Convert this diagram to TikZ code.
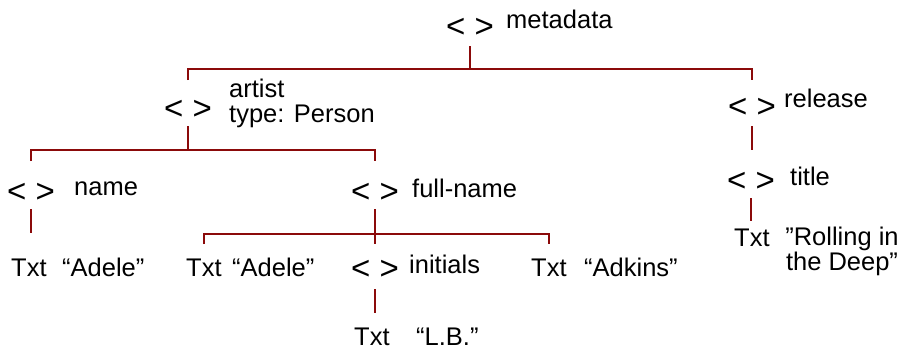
\documentclass[tikz,border=0pt]{standalone}
\usepackage{fontspec}
\setmainfont{Liberation Sans}[Ligatures=ResetAll]
\usetikzlibrary{calc}
\definecolor{linkred}{RGB}{139,10,10}
\tikzset{
  br/.style={inner sep=0pt, font=\fontsize{33}{33}\selectfont},
  lbl/.style={inner sep=0pt, anchor=base west, font=\fontsize{25.5}{25}\selectfont},
  txt/.style={inner sep=0pt, anchor=base west, font=\fontsize{25.5}{25}\selectfont},
  link/.style={draw=linkred, line width=1.6pt},
}
\begin{document}
\begin{tikzpicture}[x=1pt,y=-1pt]
\useasboundingbox (0,0) rectangle (904,354);
% element nodes
\node[br] (md) at (470,28) {< >};
\node[lbl] (mdl) at (506,28) {metadata};
\node[br] (art) at (188,110) {< >};
\node[lbl, align=left] (artl) at (229,122) {artist\\type: Person};
\node[br] (rel) at (752,108) {< >};
\node[lbl] (rell) at (784,107) {release};
\node[br] (nm) at (31,193) {< >};
\node[lbl] (nml) at (74,195) {name};
\node[br] (fn) at (375,193) {< >};
\node[lbl] (fnl) at (412,197) {full-name};
\node[br] (tt) at (751,182) {< >};
\node[lbl] (ttl) at (790,185) {title};
\node[br] (ini) at (375,270) {< >};
\node[lbl] (inil) at (409,273) {initials};
% text nodes
\node[txt] (t1) at (11,276) {Txt};
\node[lbl] (v1) at (62,276) {“Adele”};
\node[txt] (t2) at (186,276) {Txt};
\node[lbl] (v2) at (232,276) {“Adele”};
\node[txt] (t3) at (531,276) {Txt};
\node[lbl] (v3) at (584,276) {“Adkins”};
\node[txt] (t4) at (354,345) {Txt};
\node[lbl] (v4) at (416,345) {“L.B.”};
\node[txt] (t5) at (734,246) {Txt};
\node[lbl, anchor=base, align=center] (v5) at (842,270) {\symbol{34}Rolling in\\the Deep\symbol{34}};
% connectors
\draw[link] ($(md)+(0,18)$) -- ($(md)+(0,41)$) coordinate (mdbar);
\draw[link] ($(art |- mdbar)+(0,11)$) -- (art |- mdbar) -- (rel |- mdbar) -- ($(rel |- mdbar)+(0,11)$);
\draw[link] ($(art)+(0,16)$) -- ($(art)+(0,40)$) coordinate (artbar);
\draw[link] ($(nm |- artbar)+(0,11)$) -- (nm |- artbar) -- (fn |- artbar) -- ($(fn |- artbar)+(0,11)$);
\draw[link] ($(rel)+(0,18)$) -- ($(rel)+(0,42)$);
\draw[link] ($(tt)+(0,16)$) -- ($(tt)+(0,39)$);
\draw[link] ($(nm)+(0,16)$) -- ($(nm)+(0,40)$);
\draw[link] ($(fn)+(0,16)$) -- ($(fn)+(0,51)$);
\coordinate (fnbar) at ($(fn)+(0,41)$);
\draw[link] ($(t2 |- fnbar)+(0,10)$) -- (t2 |- fnbar) -- (t3 |- fnbar) -- ($(t3 |- fnbar)+(0,10)$);
\draw[link] ($(ini)+(0,19)$) -- ($(ini)+(0,43)$);
\end{tikzpicture}
\end{document}
